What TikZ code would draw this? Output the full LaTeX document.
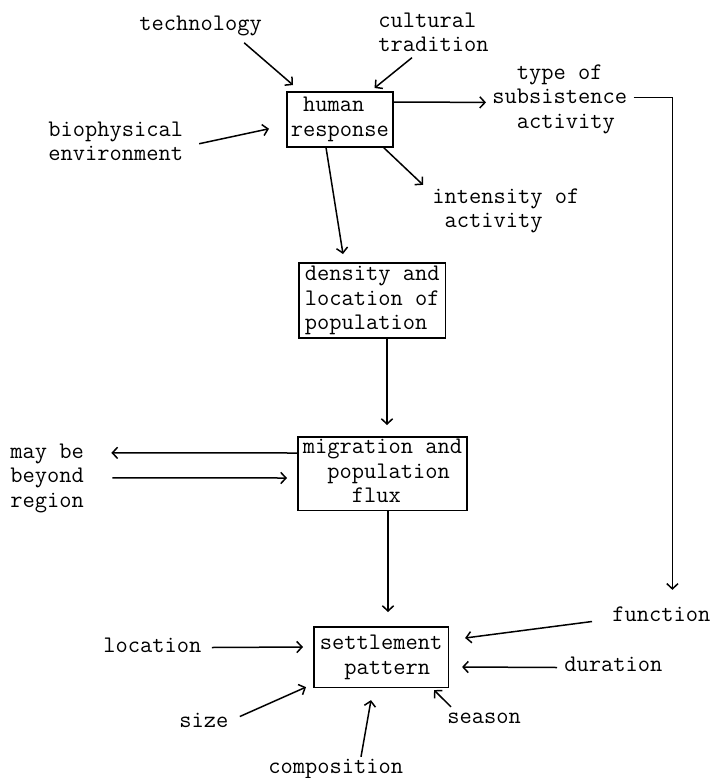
\documentclass[tikz,border=0pt]{standalone}
\usepackage{fontspec}
\usetikzlibrary{arrows.meta,calc}
% typewriter face used for every label
\newcommand\twfont{\ttfamily\fontsize{11.9}{12.25}\selectfont}
\tikzset{
  lbl/.style={font=\twfont, inner sep=0pt, align=left, anchor=north west},
  box/.style={draw, line width=0.75pt, font=\twfont, align=left, anchor=north west},
  arr/.style={line width=0.75pt, -{Straight Barb[length=2.6pt,width=5.6pt]}},
}
\begin{document}
\begin{tikzpicture}[x=0.5pt,y=-0.5pt]
\fill[white] (0,0) rectangle (715,778);
\useasboundingbox (0,0) rectangle (715,778);

% boxes
\node[box, inner xsep=2pt, inner ysep=1.5pt] (hr) at (286,91)
  {\strut\phantom{x}human\\\strut response};
\node[box, inner xsep=3pt, inner ysep=0.375pt] (dens) at (298,262)
  {\strut density and\\\strut location of\\\strut population};
\node[box, inner xsep=2.5pt, inner ysep=0pt] (mig) at (297,436)
  {\strut migration and\\\strut\phantom{xx}population\\\strut\phantom{xxxx}flux};
\node[box, inner xsep=3pt, inner ysep=2.9pt] (sett) at (313,626)
  {\strut settlement\\\strut\phantom{xx}pattern};

% free labels
\node[lbl] (tech)   at (139,12.85)  {\strut technology};
\node[lbl] (cult)   at (378,9.85)   {\strut cultural\\\strut tradition};
\node[lbl] (bio)    at (48,118.85)  {\strut biophysical\\\strut environment};
\node[lbl] (type)   at (492,61.85)  {\strut\phantom{xx}type of\\\strut subsistence\\\strut\phantom{xx}activity};
\node[lbl] (intens) at (432,185.85) {\strut intensity of\\\strut\phantom{x}activity};
\node[lbl] (may)    at (10,440.85)  {\strut may be\\\strut beyond\\\strut region};
\node[lbl] (func)   at (612,603.85) {\strut function};
\node[lbl] (loc)    at (103,634.85) {\strut location};
\node[lbl] (dur)    at (564,653.85) {\strut duration};
\node[lbl] (size)   at (179,709.85) {\strut size};
\node[lbl] (season) at (447,705.85) {\strut season};
\node[lbl] (comp)   at (268,755.85) {\strut composition};

% inputs to the human response
\draw[arr] ($(tech.south)+(43.5,4.65)$) -- ($(hr.north west)+(7,-6)$);
\draw[arr] ($(cult.south west)+(34,-2)$) -- ($(hr.north east)+(-19,-3)$);
\draw[arr] ($(bio.east)+(15.5,0)$) -- ($(hr.west)+(-17,9.5)$);

% outputs of the human response
\draw[arr] ($(hr.north east)+(0,11)$) -- ($(type.west)+(-6,3.4)$);
\draw[arr] ($(hr.south east)+(-10,0)$) -- ($(intens.north west)+(-9,-1)$);
\draw[arr] ($(hr.south west)+(40,0)$) -- ($(dens.north west)+(45,-8)$);

% main chain
\draw[arr] ($(dens.south west)+(89,0)$) -- ($(mig.north west)+(90,-11)$);
\draw[arr] ($(mig.north west)+(0,17)$) -- ($(may.north east)+(27,12)$);
\draw[arr] ($(may.north east)+(28,37)$) -- ($(mig.north west)+(-10,42)$);
\draw[arr] ($(mig.south west)+(91,0)$) -- ($(sett.north west)+(75,-14)$);

% subsistence activity feeds function
\draw[arr] ($(type.east)+(6,-1.6)$) -| ($(func.north)+(11,-14)$);

% attributes of the settlement pattern
\draw[arr] ($(func.west)+(-20,5)$) -- ($(sett.north east)+(16,12)$);
\draw[arr] ($(loc.east)+(10,0)$) -- ($(sett.north west)+(-10,21)$);
\draw[arr] ($(dur.west)+(-7,1)$) -- ($(sett.north east)+(13,41)$);
\draw[arr] ($(size.east)+(11,-6)$) -- ($(sett.south west)+(-7,-1)$);
\draw[arr] ($(season.north west)+(4,1)$) -- ($(sett.south east)+(-15,2)$);
\draw[arr] ($(comp.north west)+(93,1)$) -- ($(sett.south west)+(58,12)$);
\end{tikzpicture}
\end{document}
